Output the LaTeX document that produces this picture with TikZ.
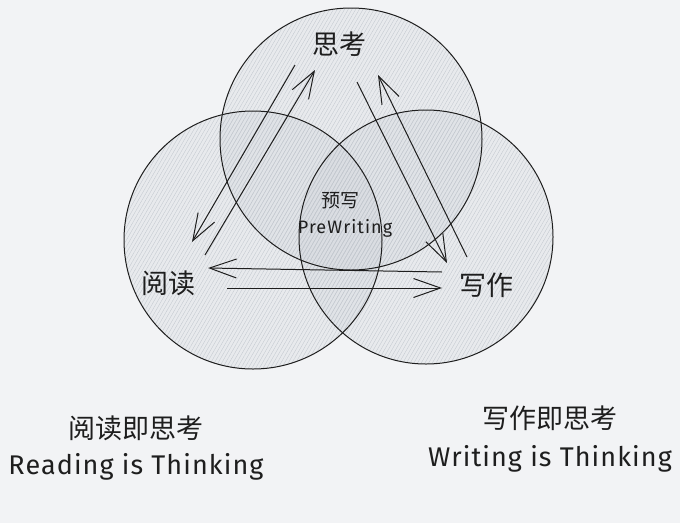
\documentclass[tikz,border=0pt]{standalone}
\usepackage{fontspec}
\newfontfamily\cjk{Noto Sans CJK SC}
\newfontfamily\hand{Fira Sans}
\usetikzlibrary{arrows.meta,patterns.meta}
\definecolor{bg}{HTML}{F2F3F5}
\definecolor{hach}{HTML}{C3C8CF}
\definecolor{ink}{HTML}{1E1E1E}
\tikzset{
  venn/.style={circle, inner sep=0pt, minimum size=#1},
  vfill/.style={fill=hach, fill opacity=0.2},
  vpat/.style={pattern={Lines[angle=60,distance=3.2pt,line width=0.35pt]}, pattern color=hach, fill opacity=0.55},
  vline/.style={draw=ink, line width=1pt},
  arr/.style={draw=ink, line width=1pt, -{Straight Barb[length=27pt,width=19pt,line width=1pt]}},
  big/.style={font=\cjk\fontsize{27}{29}\selectfont, text=ink, inner sep=0pt},
  mid/.style={font=\cjk\fontsize{19}{21}\selectfont, text=ink, inner sep=0pt},
  lat/.style={font=\hand\addfontfeature{LetterSpace=4}\fontsize{27}{29}\selectfont, text=ink, inner sep=0pt},
  latsmall/.style={font=\hand\addfontfeature{LetterSpace=6}\fontsize{18}{20}\selectfont, text=ink, inner sep=0pt},
}
\begin{document}
\begin{tikzpicture}[x=1pt,y=-1pt]
\fill[bg] (0,0) rectangle (680,523);
\useasboundingbox (0,0) rectangle (680,523);
% circles
\node[venn=262pt] (T) at (351,139) {};
\node[venn=258pt] (L) at (253,240) {};
\node[venn=254pt] (R) at (426,237) {};
\foreach \c/\r in {T/131,L/129,R/127}{
  \fill[vfill] (\c.center) circle[radius=\r];
}
\foreach \c/\r in {T/131,L/129,R/127}{
  \path[vpat] (\c.center) circle[radius=\r];
}
\foreach \c/\r in {T/131,L/129,R/127}{
  \draw[vline] (\c.center) circle[radius=\r];
}
% labels
\node[big] (think) at (339,44) {思考};
\node[big] (read) at (168,283) {阅读};
\node[big] (write) at (486,285) {写作};
\node[mid] (pre) at (340,201) {预写};
\node[latsmall] (prew) at (345,228) {PreWriting};
\node[big] (rt) at (136,428) {阅读即思考};
\node[lat] (rte) at (136,467) {Reading is Thinking};
\node[big] (wt) at (550,418) {写作即思考};
\node[lat] (wte) at (550,459) {Writing is Thinking};
% arrow end points
\coordinate (a1s) at (205,255); \coordinate (a1e) at (315,70);
\coordinate (a2s) at (295,65);  \coordinate (a2e) at (192,242);
\coordinate (a3s) at (357,82);  \coordinate (a3e) at (447,263);
\coordinate (a4s) at (467,257); \coordinate (a4e) at (378,75);
\coordinate (a5s) at (442,272); \coordinate (a5e) at (208,268);
\coordinate (a6s) at (227,288); \coordinate (a6e) at (442,288);
\draw[arr] (a1s) -- (a1e);
\draw[arr] (a2s) -- (a2e);
\draw[arr] (a3s) -- (a3e);
\draw[arr] (a4s) -- (a4e);
\draw[arr] (a5s) -- (a5e);
\draw[arr] (a6s) -- (a6e);
\end{tikzpicture}
\end{document}
